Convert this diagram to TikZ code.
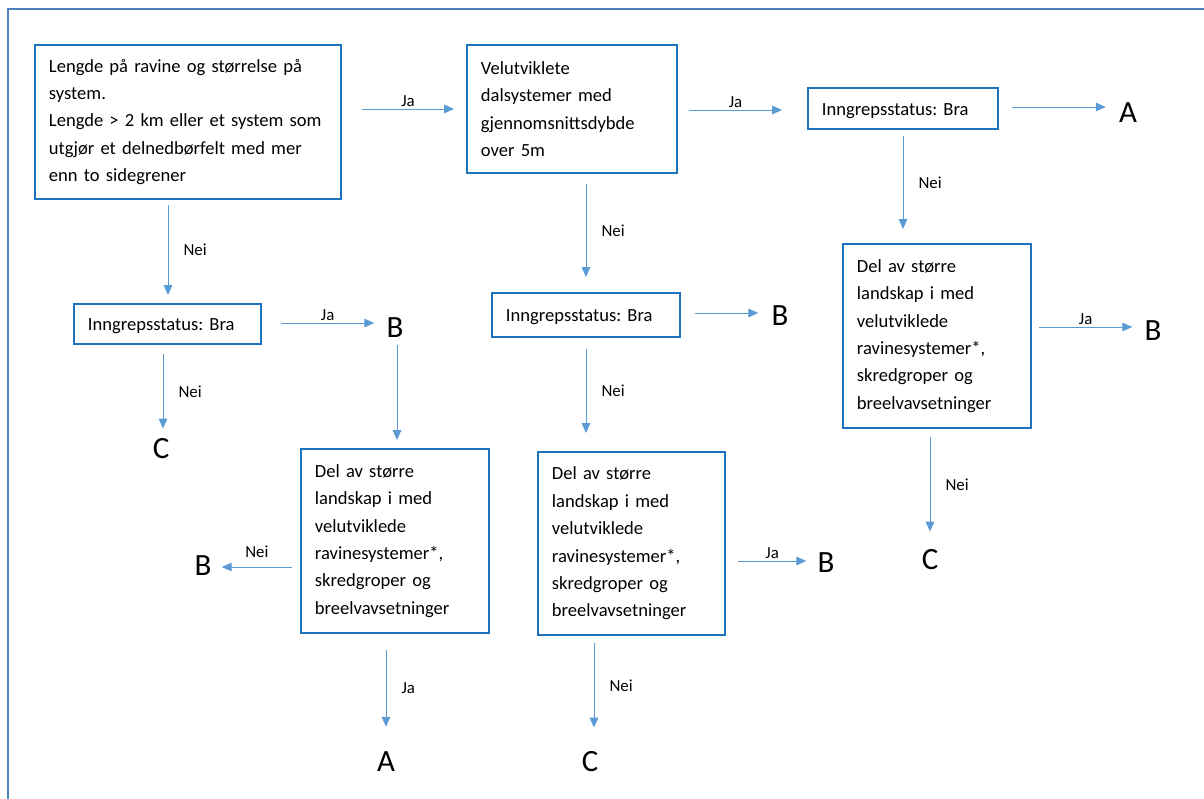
\documentclass[tikz,border=0pt]{standalone}
\usepackage{fontspec}
\setmainfont{Carlito}
\frenchspacing
\usetikzlibrary{arrows.meta,calc}
\definecolor{boxblue}{RGB}{30,115,190}
\definecolor{arrowblue}{RGB}{91,155,213}
\definecolor{frameblue}{RGB}{79,129,189}
\begin{document}
\begin{tikzpicture}[x=0.025cm,y=-0.025cm,
  box/.style={shape=rectangle,draw=boxblue,line width=1.3pt,align=left,inner xsep=0.35cm,inner ysep=0pt,font=\fontsize{13.2}{19.5}\selectfont},
  oneline/.style={box,text height=12.5pt,text depth=3pt},
  letter/.style={inner sep=0pt,font=\fontsize{22}{26}\selectfont},
  lbl/.style={inner sep=1pt,font=\fontsize{12}{14}\selectfont},
  arr/.style={draw=arrowblue,line width=0.7pt,-{Triangle[length=7pt,width=6pt]}}]
\useasboundingbox (0,0) rectangle (1204,798);
\draw[frameblue,line width=1.3pt] (8,9) rectangle (1230,830);
\node[box,text width=6.95cm,minimum height=3.85cm] (len) at (188,122) {Lengde på ravine og størrelse på\\system.\\Lengde > 2 km eller et system som\\utgjør et delnedbørfelt med mer\\enn to sidegrener};
\node[box,text width=4.55cm,minimum height=3.2cm] (dal) at (572,109) {Velutviklete\\dalsystemer med\\gjennomsnittsdybde\\over 5m};
\node[oneline,text width=4.05cm,minimum height=1.025cm] (inngH) at (903,108.5) {Inngrepsstatus: Bra};
\node[box,text width=4.0cm,minimum height=4.6cm] (delH) at (937,336) {Del av større\\landskap i med\\velutviklede\\ravinesystemer*,\\skredgroper og\\breelvavsetninger};
\node[oneline,text width=4.0cm,minimum height=1.1cm] (inngM) at (586,315) {Inngrepsstatus: Bra};
\node[box,text width=3.975cm,minimum height=4.575cm] (delM) at (631.5,543.5) {Del av større\\landskap i med\\velutviklede\\ravinesystemer*,\\skredgroper og\\breelvavsetninger};
\node[oneline,text width=3.975cm,minimum height=1.0cm] (inngV) at (167.5,324) {Inngrepsstatus: Bra};
\node[box,text width=4.0cm,minimum height=4.6cm] (delV) at (395,541) {Del av større\\landskap i med\\velutviklede\\ravinesystemer*,\\skredgroper og\\breelvavsetninger};
\node[letter] (aR) at (1128,113) {A};
\node[letter] (bR) at (1153,331) {B};
\node[letter] (cR) at (930,560) {C};
\node[letter] (bM) at (780,316) {B};
\node[letter] (bM2) at (826,563) {B};
\node[letter] (cM) at (590,762) {C};
\node[letter] (bL) at (395,328) {B};
\node[letter] (cL) at (161,449) {C};
\node[letter] (bL2) at (203,566) {B};
\node[letter] (aL) at (386,762) {A};
\path ($(len.east |- dal.west)+(20,0)$) edge[arr] node[lbl,above] {Ja} ($(dal.west)+(-12,0)$);
\path ($(dal.east |- inngH.west)+(11,1.5)$) edge[arr] node[lbl,above] {Ja} ($(inngH.west)+(-25,1.5)$);
\path ($(inngH.east)+(13,-1.5)$) edge[arr] ($(inngH.east -| aR.west)+(-13,-1.5)$);
\path ($(inngH.south)+(0,6)$) edge[arr] node[lbl,right=0.34cm] {Nei} ($(inngH.south |- delH.north)+(0,-14)$);
\path ($(delH.east)+(7,-9)$) edge[arr] node[lbl,above] {Ja} ($(delH.east -| bR.west)+(-12,-9)$);
\path ($(delH.south -| cR)+(0,8)$) edge[arr] node[lbl,right=0.34cm] {Nei} ($(cR.north)+(0,-18)$);
\path ($(inngM.north |- dal.south)+(0,10)$) edge[arr] node[lbl,right=0.34cm] {Nei} ($(inngM.north)+(0,-15)$);
\path ($(inngM.east)+(14,-2)$) edge[arr] ($(inngM.east -| bM.west)+(-13,-2)$);
\path ($(inngM.south)+(0,11)$) edge[arr] node[lbl,right=0.34cm] {Nei} ($(inngM.south |- delM.north)+(0,-18)$);
\path ($(delM.east)+(12,17.5)$) edge[arr] node[lbl,above] {Ja} ($(delM.east -| bM2.west)+(-11,17.5)$);
\path ($(delM.south -| cM)+(4,7)$) edge[arr] node[lbl,right=0.34cm] {Nei} ($(cM.north)+(4,-24)$);
\path ($(len.south -| inngV)+(0.5,5)$) edge[arr] node[lbl,right=0.34cm] {Nei} ($(inngV.north)+(0.5,-8)$);
\path ($(inngV.east)+(19,-1)$) edge[arr] node[lbl,above] {Ja} ($(inngV.east -| bL.west)+(-12,-1)$);
\path ($(bL.south)+(2,7)$) edge[arr] ($(bL.south |- delV.north)+(2,-8)$);
\path ($(inngV.south)+(-4.5,9)$) edge[arr] node[lbl,right=0.34cm] {Nei} ($(inngV.south |- cL.north)+(-4.5,-10)$);
\path ($(delV.west)+(-8,26)$) edge[arr] node[lbl,above=5pt] {Nei} ($(delV.west -| bL2.east)+(10,26)$);
\path ($(delV.south -| aL)+(0,16)$) edge[arr] node[lbl,right=0.34cm] {Ja} ($(aL.north)+(0,-25)$);
\end{tikzpicture}
\end{document}
